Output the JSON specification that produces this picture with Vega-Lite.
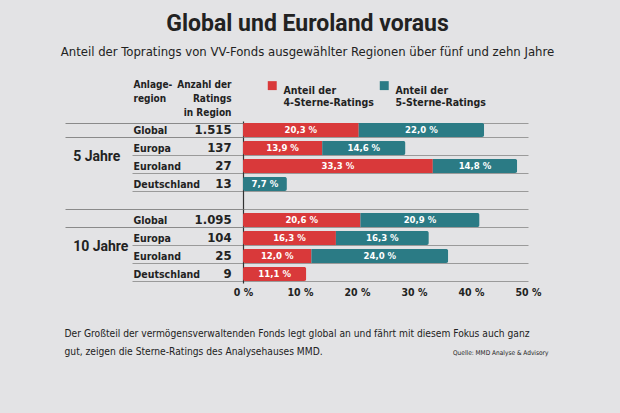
{
  "$schema": "https://vega.github.io/schema/vega-lite/v6.json",
  "width": 285,
  "height": 162,
  "autosize": "none",
  "padding": {"left": 243, "top": 121, "right": 92, "bottom": 130},
  "background": "#e3e3e5",
  "title": {
    "text": "Global und Euroland voraus",
    "subtitle": "Anteil der Topratings von VV-Fonds ausgewählter Regionen über fünf und zehn Jahre",
    "anchor": "middle",
    "frame": "group",
    "dx": -78,
    "offset": 20,
    "font": "Roboto",
    "fontSize": 23,
    "fontWeight": "bold",
    "color": "#222222",
    "subtitleFont": "DejaVu Sans Condensed",
    "subtitleFontSize": 13,
    "subtitleColor": "#222222",
    "subtitlePadding": 10
  },
  "datasets": {
    "bars": [
      {"key": "5|Global", "series": "4-Sterne-Ratings", "value": 20.3},
      {"key": "5|Global", "series": "5-Sterne-Ratings", "value": 22.0},
      {"key": "5|Europa", "series": "4-Sterne-Ratings", "value": 13.9},
      {"key": "5|Europa", "series": "5-Sterne-Ratings", "value": 14.6},
      {"key": "5|Euroland", "series": "4-Sterne-Ratings", "value": 33.3},
      {"key": "5|Euroland", "series": "5-Sterne-Ratings", "value": 14.8},
      {"key": "5|Deutschland", "series": "5-Sterne-Ratings", "value": 7.7},
      {"key": "10|Global", "series": "4-Sterne-Ratings", "value": 20.6},
      {"key": "10|Global", "series": "5-Sterne-Ratings", "value": 20.9},
      {"key": "10|Europa", "series": "4-Sterne-Ratings", "value": 16.3},
      {"key": "10|Europa", "series": "5-Sterne-Ratings", "value": 16.3},
      {"key": "10|Euroland", "series": "4-Sterne-Ratings", "value": 12.0},
      {"key": "10|Euroland", "series": "5-Sterne-Ratings", "value": 24.0},
      {"key": "10|Deutschland", "series": "4-Sterne-Ratings", "value": 11.1}
    ],
    "rows": [
      {"key": "5|Global", "count": 1515},
      {"key": "5|Europa", "count": 137},
      {"key": "5|Euroland", "count": 27},
      {"key": "5|Deutschland", "count": 13},
      {"key": "10|Global", "count": 1095},
      {"key": "10|Europa", "count": 104},
      {"key": "10|Euroland", "count": 25},
      {"key": "10|Deutschland", "count": 9}
    ],
    "groups": [
      {"label": "5 Jahre", "key": "5|Euroland"},
      {"label": "10 Jahre", "key": "10|Euroland"}
    ]
  },
  "layer": [
    {
      "data": {"name": "bars"},
      "mark": {"type": "bar", "cornerRadius": 2},
      "encoding": {
        "y": {
          "field": "key",
          "type": "nominal",
          "scale": {"domain": ["5|Global", "5|Europa", "5|Euroland", "5|Deutschland", "gap", "10|Global", "10|Europa", "10|Euroland", "10|Deutschland"], "paddingInner": 0.22, "paddingOuter": 0.11},
          "axis": {
            "title": ["Anlage-", "region"],
            "titleAngle": 0,
            "titleAlign": "left",
            "titleBaseline": "top",
            "titleX": -110,
            "titleY": -42,
            "titleFont": "DejaVu Sans Condensed",
            "titleFontSize": 10,
            "titleFontWeight": "bold",
            "titleColor": "#222222",
            "titleLineHeight": 14,
            "labelExpr": "datum.value == 'gap' ? '' : split(datum.value, '|')[1]",
            "labelAlign": "left",
            "labelPadding": -1,
            "labelFont": "DejaVu Sans Condensed",
            "labelFontSize": 10.5,
            "labelFontWeight": "bold",
            "labelColor": "#222222",
            "tickBand": "extent",
            "ticks": true,
            "tickSize": 111,
            "tickColor": "#9a9a9a",
            "grid": true,
            "gridColor": "#9a9a9a",
            "domain": true,
            "domainColor": "#333333",
            "domainWidth": 1.2
          }
        },
        "x": {
          "field": "value",
          "type": "quantitative",
          "stack": "zero",
          "scale": {"domain": [0, 50], "nice": false},
          "axis": {
            "values": [0, 10, 20, 30, 40, 50],
            "labelExpr": "datum.value + ' %'",
            "labelFlush": false,
            "labelFont": "DejaVu Sans Condensed",
            "labelFontSize": 10.5,
            "labelFontWeight": "bold",
            "labelColor": "#222222",
            "labelPadding": 4,
            "domain": false,
            "ticks": false,
            "grid": false,
            "title": ["Der Großteil der vermögensverwaltenden Fonds legt global an und fährt mit diesem Fokus auch ganz", "gut, zeigen die Sterne-Ratings des Analysehauses MMD."],
            "titleFont": "DejaVu Sans Condensed",
            "titleFontSize": 10.2,
            "titleFontWeight": "normal",
            "titleColor": "#222222",
            "titleAlign": "left",
            "titleBaseline": "top",
            "titleX": -179,
            "titleY": 45,
            "titleLineHeight": 18
          }
        },
        "color": {
          "field": "series",
          "type": "nominal",
          "scale": {"domain": ["4-Sterne-Ratings", "5-Sterne-Ratings"], "range": ["#d9393a", "#2b7b85"]},
          "legend": {
            "orient": "none",
            "legendX": 24,
            "legendY": -41,
            "direction": "horizontal",
            "columns": 2,
            "title": null,
            "padding": 0,
            "symbolType": "square",
            "symbolSize": 80,
            "symbolStrokeWidth": 0,
            "columnPadding": 5,
            "labelOffset": 6,
            "labelExpr": "['Anteil der', datum.label]",
            "labelFont": "DejaVu Sans Condensed",
            "labelFontSize": 10.5,
            "labelFontWeight": "bold",
            "labelColor": "#222222",
            "labelBaseline": "top",
            "labelLineHeight": 15,
            "labelLimit": 200
          }
        },
        "order": {"field": "series"}
      }
    },
    {
      "data": {"name": "bars"},
      "transform": [
        {"stack": "value", "groupby": ["key"], "sort": [{"field": "series"}], "as": ["v0", "v1"]},
        {"calculate": "(datum.v0 + datum.v1) / 2", "as": "mid"},
        {"calculate": "replace(format(datum.value, '.1f'), '.', ',') + ' %'", "as": "label"}
      ],
      "mark": {"type": "text", "color": "white", "font": "DejaVu Sans Condensed", "fontSize": 9.5, "fontWeight": "bold", "baseline": "middle", "align": "center"},
      "encoding": {
        "y": {"field": "key", "type": "nominal", "scale": {"domain": ["5|Global", "5|Europa", "5|Euroland", "5|Deutschland", "gap", "10|Global", "10|Europa", "10|Euroland", "10|Deutschland"]}, "axis": null},
        "x": {"field": "mid", "type": "quantitative", "scale": {"domain": [0, 50], "nice": false}, "axis": null},
        "text": {"field": "label"}
      }
    },
    {
      "data": {"name": "rows"},
      "mark": {"type": "text", "color": "#222222", "font": "DejaVu Sans Condensed", "fontSize": 13, "fontWeight": "bold", "baseline": "middle", "align": "right"},
      "encoding": {
        "y": {
          "field": "key",
          "type": "nominal",
          "scale": {"domain": ["5|Global", "5|Europa", "5|Euroland", "5|Deutschland", "gap", "10|Global", "10|Europa", "10|Euroland", "10|Deutschland"]},
          "axis": {
            "orient": "left",
            "title": ["Anzahl der", "Ratings", "in Region"],
            "titleAngle": 0,
            "titleAlign": "right",
            "titleBaseline": "top",
            "titleX": -12,
            "titleY": -42,
            "titleFont": "DejaVu Sans Condensed",
            "titleFontSize": 10,
            "titleFontWeight": "bold",
            "titleColor": "#222222",
            "titleLineHeight": 14,
            "labels": false,
            "domain": false,
            "grid": false,
            "tickBand": "extent",
            "ticks": true,
            "tickSize": 178,
            "tickColor": "#8a8a8a",
            "tickOpacity": {"condition": {"test": "!datum.value || indexof(['5|Global', 'gap', '10|Global'], datum.value) >= 0", "value": 1}, "value": 0}
          }
        },
        "x": {
          "datum": -2,
          "type": "quantitative",
          "scale": {"domain": [0, 50], "nice": false},
          "axis": {
            "orient": "bottom",
            "title": "Quelle: MMD Analyse & Advisory",
            "titleFont": "DejaVu Sans Condensed",
            "titleFontSize": 6.5,
            "titleFontWeight": "normal",
            "titleColor": "#222222",
            "titleAlign": "right",
            "titleBaseline": "top",
            "titleX": 305,
            "titleY": 66,
            "labels": false,
            "ticks": false,
            "domain": false,
            "grid": false
          }
        },
        "text": {"field": "count", "type": "quantitative", "format": ",d"}
      }
    },
    {
      "data": {"name": "groups"},
      "mark": {"type": "text", "color": "#222222", "font": "Roboto", "fontSize": 14, "fontWeight": "bold", "baseline": "middle", "align": "left", "dy": -2},
      "encoding": {
        "y": {"field": "key", "type": "nominal", "bandPosition": 0, "scale": {"domain": ["5|Global", "5|Europa", "5|Euroland", "5|Deutschland", "gap", "10|Global", "10|Europa", "10|Euroland", "10|Deutschland"]}, "axis": null},
        "x": {"datum": -29.8, "type": "quantitative", "scale": {"domain": [0, 50], "nice": false}, "axis": null},
        "text": {"field": "label"}
      }
    }
  ],
  "resolve": {"axis": {"x": "independent", "y": "independent"}},
  "config": {
    "view": {"stroke": null},
    "locale": {"number": {"decimal": ",", "thousands": ".", "grouping": [3], "currency": ["", " €"]}}
  }
}
